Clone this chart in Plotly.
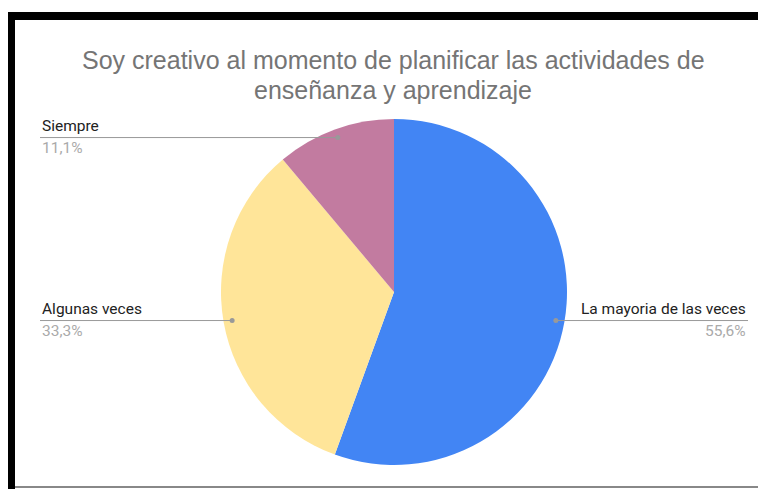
import numpy as np
import plotly.graph_objects as go

# data
labels = ["La mayoria de las veces", "Algunas veces", "Siempre"]
values = [5, 3, 1]
colors = ["#4285F4", "#FFE599", "#C27BA0"]
title_lines = ["Soy creativo al momento de planificar las actividades de",
               "enseñanza y aprendizaje"]

W, H = 766, 489
OFF = 8                     # page body margin
CX, CY, R = 394, 292, 173  # pie centre / radius in screen px
LEFT_X, RIGHT_X = 40, 748   # label columns in screen px


def px(x):
    return (x - OFF) / W


def py(y):
    return 1 - (y - OFF) / H


fig = go.Figure()
fig.add_trace(go.Pie(
    labels=labels, values=values, sort=False, direction="clockwise",
    rotation=0, marker=dict(colors=colors, line=dict(width=0)),
    textinfo="none", hoverinfo="label+percent", showlegend=False,
    domain=dict(x=[px(CX - R), px(CX + R)], y=[py(CY + R), py(CY - R)]),
))

# leader lines + labels, positioned from slice mid angles
total = sum(values)
start = 0.0
shapes, annotations = [], []
for lab, v in zip(labels, values):
    frac = v / total
    mid = np.deg2rad((start + frac / 2) * 360)
    start += frac
    dx = CX + 0.95 * R * np.sin(mid)
    dy = CY - 0.95 * R * np.cos(mid)
    right = dx > CX
    ex = RIGHT_X if right else LEFT_X
    shapes.append(dict(type="line", xref="paper", yref="paper",
                       x0=px(dx), x1=px(ex), y0=py(dy), y1=py(dy),
                       line=dict(color="#999999", width=1)))
    shapes.append(dict(type="circle", xref="paper", yref="paper",
                       x0=px(dx - 2.5), x1=px(dx + 2.5),
                       y0=py(dy - 2.5), y1=py(dy + 2.5),
                       fillcolor="#999999", line=dict(width=0)))
    anchor = "right" if right else "left"
    pct = f"{frac * 100:.1f}".replace(".", ",") + "%"
    annotations.append(dict(x=px(ex), y=py(dy - 1), xref="paper", yref="paper",
                            text=lab, showarrow=False, xanchor=anchor,
                            yanchor="bottom",
                            font=dict(family="Roboto", size=15.5, color="#222222")))
    annotations.append(dict(x=px(ex), y=py(dy - 1), xref="paper", yref="paper",
                            text=pct, showarrow=False, xanchor=anchor,
                            yanchor="top",
                            font=dict(family="Roboto", size=15.5, color="#aaaaaa")))

# title, one annotation per line
for i, line in enumerate(title_lines):
    annotations.append(dict(x=px(393), y=py(60 + 30 * i), xref="paper", yref="paper",
                            text=line, showarrow=False, xanchor="center",
                            yanchor="middle",
                            font=dict(family="Liberation Sans, Arial", size=25,
                                      color="#757575")))

# screenshot frame
shapes += [
    dict(type="rect", xref="paper", yref="paper", x0=px(8), x1=1,
         y0=py(20), y1=py(12), fillcolor="black", line=dict(width=0)),
    dict(type="rect", xref="paper", yref="paper", x0=px(8), x1=px(15),
         y0=0, y1=py(12), fillcolor="black", line=dict(width=0)),
    dict(type="line", xref="paper", yref="paper", x0=px(15), x1=1,
         y0=py(487), y1=py(487), line=dict(color="#888888", width=2)),
]

fig.update_layout(
    width=W, height=H,
    margin=dict(l=0, r=0, t=0, b=0),
    paper_bgcolor="white", plot_bgcolor="white",
    shapes=shapes, annotations=annotations,
)

fig.write_html("out.html")
